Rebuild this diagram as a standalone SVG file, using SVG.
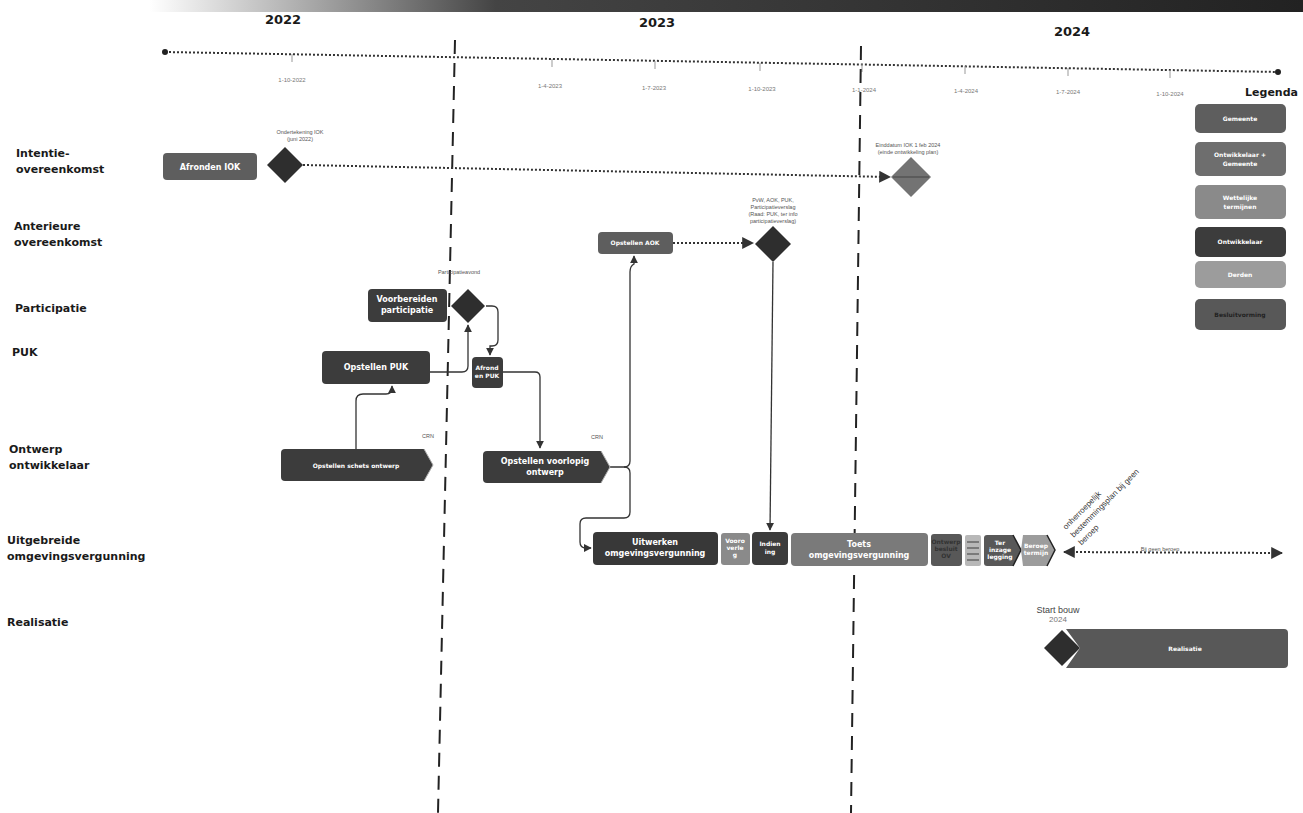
<svg xmlns="http://www.w3.org/2000/svg" width="1303" height="813" viewBox="0 0 1303 813">
<style>
.bg{fill:#fff}
.yr{font-family:"DejaVu Sans",sans-serif;font-weight:bold;font-size:13px;fill:#1a1a1a}
.row{font-family:"DejaVu Sans",sans-serif;font-weight:bold;font-size:11px;fill:#1a1a1a}
.tick{font-family:"Liberation Sans",sans-serif;font-size:6px;fill:#777}
.tiny{font-family:"Liberation Sans",sans-serif;font-size:5.5px;fill:#555}
.nt{font-family:"DejaVu Sans",sans-serif;font-weight:bold;font-size:8px;fill:#fff}
.ns{font-family:"DejaVu Sans",sans-serif;font-weight:bold;font-size:6px;fill:#fff}
.c{stroke:#333;stroke-width:1.3;fill:none}
.dot{stroke:#333;stroke-width:2;fill:none;stroke-dasharray:2 2}
.vd{stroke:#222;stroke-width:2;fill:none;stroke-dasharray:14 9}
.g1{fill:#5e5e5e}
.g2{fill:#6e6e6e}
.g3{fill:#8a8a8a}
.g4{fill:#3c3c3c}
.g5{fill:#9c9c9c}
.g6{fill:#585858}
.dia{fill:#2e2e2e}
</style>
<defs>
<marker id="ah" viewBox="0 0 10 10" refX="9" refY="5" markerWidth="6" markerHeight="6" orient="auto-start-reverse"><path d="M0,0 L10,5 L0,10 z" fill="#333"/></marker>
<linearGradient id="top" x1="0" x2="1" y1="0" y2="0"><stop offset="0" stop-color="#fff"/><stop offset="0.3" stop-color="#444"/><stop offset="1" stop-color="#222"/></linearGradient>
</defs>
<rect class="bg" width="1303" height="813"/>
<rect x="150" y="0" width="1153" height="12" fill="url(#top)"/>

<g id="timeline">
<text class="yr" x="283" y="24" text-anchor="middle">2022</text>
<text class="yr" x="657" y="27" text-anchor="middle">2023</text>
<text class="yr" x="1072" y="36" text-anchor="middle">2024</text>
<line class="dot" x1="165" y1="52" x2="1278" y2="72"/>
<circle cx="165" cy="52" r="3" fill="#222"/>
<circle cx="1278" cy="72" r="3" fill="#222"/>
<g stroke="#999" stroke-width="1">
<line x1="292" y1="54" x2="292" y2="62"/>
<line x1="552" y1="59" x2="552" y2="67"/>
<line x1="655" y1="61" x2="655" y2="69"/>
<line x1="760" y1="63" x2="760" y2="71"/>
<line x1="862" y1="64" x2="862" y2="72"/>
<line x1="965" y1="66" x2="965" y2="74"/>
<line x1="1068" y1="68" x2="1068" y2="76"/>
<line x1="1170" y1="70" x2="1170" y2="78"/>
</g>
<text class="tick" x="292" y="82" text-anchor="middle">1-10-2022</text>
<text class="tick" x="550" y="88" text-anchor="middle">1-4-2023</text>
<text class="tick" x="654" y="90" text-anchor="middle">1-7-2023</text>
<text class="tick" x="762" y="91" text-anchor="middle">1-10-2023</text>
<text class="tick" x="864" y="92" text-anchor="middle">1-1-2024</text>
<text class="tick" x="966" y="93" text-anchor="middle">1-4-2024</text>
<text class="tick" x="1068" y="94" text-anchor="middle">1-7-2024</text>
<text class="tick" x="1170" y="96" text-anchor="middle">1-10-2024</text>
<line class="vd" x1="455" y1="40" x2="438" y2="813"/>
<line class="vd" x1="861" y1="46" x2="851" y2="813"/>
</g>

<g id="rows">
<text class="row" x="16" y="157">Intentie-</text>
<text class="row" x="16" y="173">overeenkomst</text>
<text class="row" x="14" y="230">Anterieure</text>
<text class="row" x="14" y="246">overeenkomst</text>
<text class="row" x="15" y="312">Participatie</text>
<text class="row" x="12" y="356">PUK</text>
<text class="row" x="9" y="453">Ontwerp</text>
<text class="row" x="9" y="469">ontwikkelaar</text>
<text class="row" x="7" y="544">Uitgebreide</text>
<text class="row" x="7" y="560">omgevingsvergunning</text>
<text class="row" x="7" y="626">Realisatie</text>
</g>

<g id="legend">
<text class="row" x="1298" y="96" text-anchor="end" font-size="9">Legenda</text>
<rect class="g1" x="1195" y="104" width="91" height="29" rx="5"/>
<text class="ns" x="1240" y="121" text-anchor="middle">Gemeente</text>
<rect class="g2" x="1195" y="142" width="91" height="34" rx="5"/>
<text class="ns" x="1240" y="157" text-anchor="middle">Ontwikkelaar +</text>
<text class="ns" x="1240" y="166" text-anchor="middle">Gemeente</text>
<rect class="g3" x="1195" y="185" width="91" height="34" rx="5"/>
<text class="ns" x="1240" y="200" text-anchor="middle">Wettelijke</text>
<text class="ns" x="1240" y="209" text-anchor="middle">termijnen</text>
<rect class="g4" x="1195" y="227" width="91" height="30" rx="5"/>
<text class="ns" x="1240" y="244" text-anchor="middle">Ontwikkelaar</text>
<rect class="g5" x="1195" y="261" width="91" height="27" rx="5"/>
<text class="ns" x="1240" y="277" text-anchor="middle">Derden</text>
<rect class="g6" x="1195" y="299" width="91" height="31" rx="5"/>
<text class="ns" x="1240" y="317" text-anchor="middle" style="fill:#222">Besluitvorming</text>
</g>

<g id="connectors">
<line class="dot" x1="303" y1="165" x2="890" y2="177" marker-end="url(#ah)"/>
<line class="dot" x1="673" y1="243" x2="753" y2="243" marker-end="url(#ah)"/>
<path class="c" d="M430,372 H462 Q468,372 468,366 V325" marker-end="url(#ah)"/>
<path class="c" d="M486,306 H492 Q498,306 498,312 V340 Q498,346 492,346 H490 V355" marker-end="url(#ah)"/>
<path class="c" d="M503,372 H535 Q540,372 540,377 V448" marker-end="url(#ah)"/>
<path class="c" d="M356,449 V401 Q356,394 363,394 H386 Q392,394 392,388 V386" marker-end="url(#ah)"/>
<path class="c" d="M610,467 H624 Q630,467 630,461 V272 Q630,266 634,264 L634,256" marker-end="url(#ah)"/>
<path class="c" d="M624,467 Q630,467 630,473 V512 Q630,518 624,518 H586 Q580,518 580,524 V542 Q580,548 586,548 H591" marker-end="url(#ah)"/>
<line class="c" x1="773" y1="262" x2="770" y2="530" marker-end="url(#ah)"/>
<line class="dot" x1="1064" y1="552" x2="1282" y2="553" stroke-width="1.2" marker-start="url(#ah)" marker-end="url(#ah)"/>
<text class="tiny" x="1160" y="551" text-anchor="middle">Bij geen beroep</text>
</g>

<g id="n-afronden-iok">
<rect class="g1" x="163" y="153" width="94" height="27" rx="4"/>
<text class="nt" x="210" y="170" text-anchor="middle">Afronden IOK</text>
</g>
<g id="n-ondertekening-iok">
<polygon class="dia" points="285,147 303,165 285,183 267,165"/>
<text class="tiny" x="300" y="134" text-anchor="middle">Ondertekening IOK</text>
<text class="tiny" x="300" y="141" text-anchor="middle">(juni 2022)</text>
</g>
<g id="n-einddatum-iok">
<polygon fill="#737373" points="911,157 931,177 911,197 891,177"/>
<line x1="893" y1="177" x2="929" y2="177" stroke="#444" stroke-width="1"/>
<text class="tiny" x="908" y="147" text-anchor="middle">Einddatum IOK 1 feb 2024</text>
<text class="tiny" x="908" y="154" text-anchor="middle">(einde ontwikkeling plan)</text>
</g>
<g id="n-opstellen-aok">
<rect class="g1" x="598" y="232" width="75" height="22" rx="4"/>
<text class="ns" x="635" y="245" text-anchor="middle">Opstellen AOK</text>
</g>
<g id="n-besluit-aok">
<polygon class="dia" points="773,226 791,244 773,262 755,244"/>
<text class="tiny" x="773" y="202" text-anchor="middle">PvW, AOK, PUK,</text>
<text class="tiny" x="773" y="209" text-anchor="middle">Participatieverslag</text>
<text class="tiny" x="773" y="216" text-anchor="middle">(Raad: PUK, ter info</text>
<text class="tiny" x="773" y="223" text-anchor="middle">participatieverslag)</text>
</g>
<g id="n-voorbereiden-participatie">
<rect class="g4" x="368" y="289" width="79" height="33" rx="4"/>
<text class="nt" x="407" y="302" text-anchor="middle">Voorbereiden</text>
<text class="nt" x="407" y="313" text-anchor="middle">participatie</text>
</g>
<g id="n-participatieavond">
<polygon class="dia" points="468,289 485,306 468,323 451,306"/>
<text class="tiny" x="459" y="274" text-anchor="middle">Participatieavond</text>
</g>
<g id="n-opstellen-puk">
<rect class="g4" x="322" y="351" width="108" height="33" rx="4"/>
<text class="nt" x="376" y="370" text-anchor="middle">Opstellen PUK</text>
</g>
<g id="n-afronden-puk">
<rect class="g4" x="472" y="357" width="31" height="31" rx="4"/>
<text class="ns" x="487" y="370" text-anchor="middle">Afrond</text>
<text class="ns" x="487" y="378" text-anchor="middle">en PUK</text>
</g>
<g id="n-schets-ontwerp">
<path class="g4" d="M285,449 H424 L433,465 L424,481 H285 Q281,481 281,477 V453 Q281,449 285,449 Z"/>
<path d="M424,449 L433,465 L424,481" fill="none" stroke="#aaa" stroke-width="1"/>
<text class="ns" x="356" y="468" text-anchor="middle" font-size="7">Opstellen schets ontwerp</text>
<text class="tiny" x="428" y="438" text-anchor="middle">CRN</text>
</g>
<g id="n-voorlopig-ontwerp">
<path class="g4" d="M487,451 H601 L610,467 L601,483 H487 Q483,483 483,479 V455 Q483,451 487,451 Z"/>
<path d="M601,451 L610,467 L601,483" fill="none" stroke="#aaa" stroke-width="1"/>
<text class="nt" x="545" y="464" text-anchor="middle">Opstellen voorlopig</text>
<text class="nt" x="545" y="475" text-anchor="middle">ontwerp</text>
<text class="tiny" x="597" y="439" text-anchor="middle">CRN</text>
</g>
<g id="n-uitwerken">
<rect x="593" y="532" width="125" height="33" rx="4" fill="#383838"/>
<text class="nt" x="655" y="545" text-anchor="middle">Uitwerken</text>
<text class="nt" x="655" y="556" text-anchor="middle">omgevingsvergunning</text>
</g>
<g id="n-vooroverleg">
<rect class="g3" x="721" y="533" width="29" height="32" rx="3"/>
<text class="ns" x="735" y="543" text-anchor="middle" font-size="5">Vooro</text>
<text class="ns" x="735" y="550" text-anchor="middle" font-size="5">verle</text>
<text class="ns" x="735" y="557" text-anchor="middle" font-size="5">g</text>
</g>
<g id="n-indiening">
<rect class="g4" x="752" y="532" width="36" height="33" rx="4"/>
<text class="ns" x="770" y="546" text-anchor="middle">Indien</text>
<text class="ns" x="770" y="554" text-anchor="middle">ing</text>
</g>
<g id="n-toets">
<rect fill="#7a7a7a" x="791" y="533" width="137" height="33" rx="4"/>
<text class="nt" x="859" y="547" text-anchor="middle">Toets</text>
<text class="nt" x="859" y="558" text-anchor="middle">omgevingsvergunning</text>
</g>
<g id="n-besluit">
<rect class="g6" x="931" y="534" width="31" height="32" rx="3"/>
<text class="ns" x="946" y="544" text-anchor="middle" font-size="4.5" style="fill:#333">Ontwerp</text>
<text class="ns" x="946" y="551" text-anchor="middle" font-size="4.5" style="fill:#333">besluit</text>
<text class="ns" x="946" y="558" text-anchor="middle" font-size="4.5" style="fill:#333">OV</text>
</g>
<g id="n-sep">
<rect fill="#b8b8b8" x="965" y="535" width="16" height="31" rx="2"/>
<path d="M967,542 H979 M967,548 H979 M967,554 H979 M967,560 H979" stroke="#666" stroke-width="1.5"/>
</g>
<g id="n-ter-inzage">
<path class="g6" d="M987,535 H1013 L1021,550 L1013,566 H987 Q984,566 984,563 V538 Q984,535 987,535 Z"/>
<path d="M1013,535 L1021,550 L1013,566" fill="none" stroke="#222" stroke-width="1.5"/>
<text class="ns" x="1000" y="545" text-anchor="middle" font-size="5">Ter</text>
<text class="ns" x="1000" y="552" text-anchor="middle" font-size="5">inzage</text>
<text class="ns" x="1000" y="559" text-anchor="middle" font-size="5">legging</text>
</g>
<g id="n-beroep">
<path class="g5" d="M1023,535 H1047 L1055,550 L1047,566 H1023 L1021,550 Z"/>
<path d="M1047,535 L1055,550 L1047,566" fill="none" stroke="#222" stroke-width="1.5"/>
<text class="ns" x="1036" y="548" text-anchor="middle" font-size="5">Beroep</text>
<text class="ns" x="1036" y="555" text-anchor="middle" font-size="5">termijn</text>
</g>
<g id="n-onherroepelijk">
<g transform="translate(1066,530) rotate(-45)">
<text x="0" y="0" font-family="Liberation Sans, sans-serif" font-size="8" fill="#333">onherroepelijk</text>
<text x="0" y="11" font-family="Liberation Sans, sans-serif" font-size="8" fill="#333">bestemmingsplan bij geen</text>
<text x="0" y="22" font-family="Liberation Sans, sans-serif" font-size="8" fill="#333">beroep</text>
</g>
</g>
<g id="n-start-bouw">
<text x="1058" y="613" text-anchor="middle" font-family="Liberation Sans, sans-serif" font-size="9" fill="#444">Start bouw</text>
<text x="1058" y="622" text-anchor="middle" font-family="Liberation Sans, sans-serif" font-size="8" fill="#777">2024</text>
</g>
<g id="n-realisatie">
<path class="g6" d="M1066,629 H1284 Q1288,629 1288,633 V664 Q1288,668 1284,668 H1066 L1080,648 Z"/>
<polygon class="dia" points="1062,630 1080,648 1062,666 1044,648"/>
<text class="ns" x="1185" y="651" text-anchor="middle">Realisatie</text>
</g>
</svg>
